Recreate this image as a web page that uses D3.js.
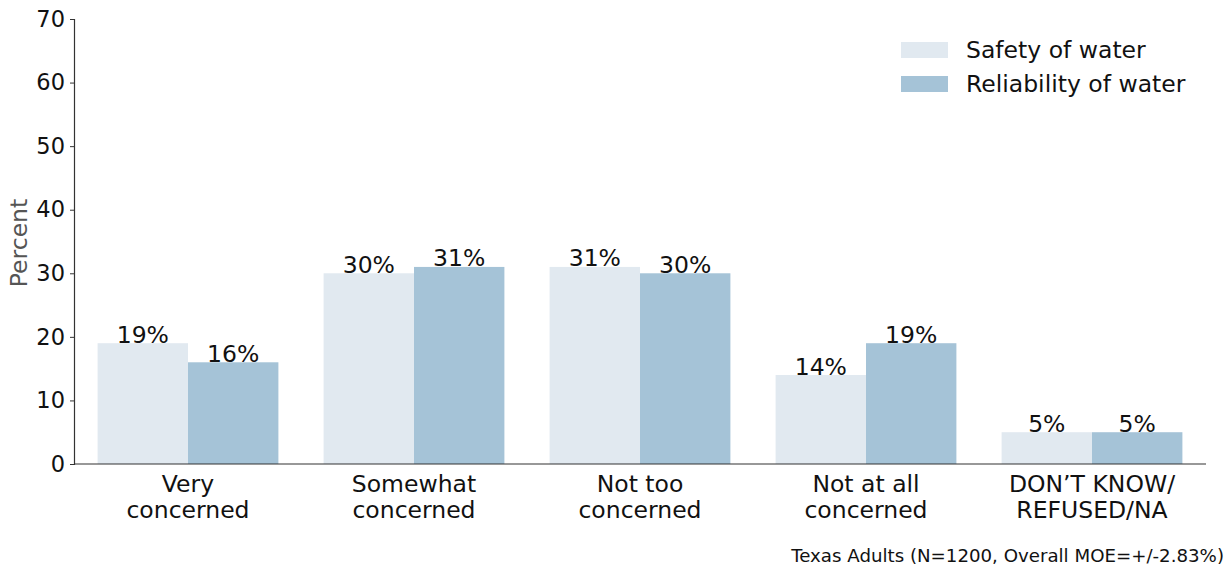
<!DOCTYPE html>
<html lang="en">
<head>
    <meta charset="UTF-8">
    <title>Water concern - Texas Adults</title>
    <script src="https://d3js.org/d3.v7.min.js"></script>
    <style>
        body { margin: 0; background: #fff; }
        text { font-family: "DejaVu Sans", sans-serif; }
    </style>
</head>
<body>
    <svg width="1230" height="567" id="chart"></svg>

    <script>
        // data
        const categories = [["Very", "concerned"], ["Somewhat", "concerned"], ["Not too", "concerned"],
                            ["Not at all", "concerned"], ["DON\u2019T KNOW/", "REFUSED/NA"]];
        const seriesNames = ["Safety of water", "Reliability of water"];
        const safety = [19, 30, 31, 14, 5];
        const reliability = [16, 31, 30, 19, 5];
        const yTicks = [0, 10, 20, 30, 40, 50, 60, 70];
        const colors = ["#e1e9f0", "#a5c3d7"];
        const footnote = "Texas Adults (N=1200, Overall MOE=+/-2.83%)";

        const svg = d3.select("#chart");
        const plotLeft = 75, plotRight = 1205, plotTop = 19, plotBottom = 464;
        const fs = 23.5;

        const x0 = d3.scaleBand()
            .domain(d3.range(categories.length))
            .range([plotLeft, plotRight])
            .paddingInner(0.2)
            .paddingOuter(0.1);

        const x1 = d3.scaleBand()
            .domain(d3.range(seriesNames.length))
            .range([0, x0.bandwidth()])
            .padding(0);

        const y = d3.scaleLinear().domain([0, 70]).range([plotBottom, plotTop]);

        const series = [safety, reliability];

        // bars
        const groups = svg.append("g").selectAll("g")
            .data(categories.map((c, i) => i))
            .join("g")
            .attr("transform", i => `translate(${x0(i)},0)`);

        groups.selectAll("rect")
            .data(i => series.map((s, k) => ({ k, v: s[i] })))
            .join("rect")
            .attr("x", d => x1(d.k))
            .attr("y", d => y(d.v))
            .attr("width", x1.bandwidth())
            .attr("height", d => y(0) - y(d.v))
            .attr("fill", d => colors[d.k]);

        // value labels
        groups.selectAll("text")
            .data(i => series.map((s, k) => ({ k, v: s[i] })))
            .join("text")
            .attr("x", d => x1(d.k) + x1.bandwidth() / 2)
            .attr("y", d => y(d.v) - 0.5)
            .attr("text-anchor", "middle")
            .attr("font-size", fs)
            .attr("fill", "#111")
            .text(d => d.v + "%");

        // y axis
        const yAxis = svg.append("g")
            .attr("transform", `translate(${plotLeft - 1},0)`)
            .call(d3.axisLeft(y).tickValues(yTicks).tickSize(4).tickPadding(5));
        yAxis.select(".domain").attr("stroke", "#333").attr("stroke-width", 1.2);
        yAxis.selectAll(".tick line").attr("stroke", "#333");
        yAxis.selectAll(".tick text")
            .attr("font-size", 22.5)
            .attr("font-family", "DejaVu Sans, sans-serif")
            .attr("fill", "#111");

        // x axis
        const xAxis = svg.append("g")
            .attr("transform", `translate(0,${plotBottom})`)
            .call(d3.axisBottom(x0).tickSize(0).tickFormat(""));
        xAxis.select(".domain").attr("stroke", "#333").attr("stroke-width", 1.2)
            .attr("d", `M${plotLeft - 1},0H${plotRight + 1}`);

        const catLabels = svg.append("g").selectAll("text")
            .data(categories)
            .join("text")
            .attr("text-anchor", "middle")
            .attr("font-size", fs)
            .attr("fill", "#111")
            .attr("transform", (d, i) => `translate(${x0(i) + x0.bandwidth() / 2},0)`);
        catLabels.selectAll("tspan")
            .data(d => d)
            .join("tspan")
            .attr("x", 0)
            .attr("y", (d, j) => 492 + j * 26)
            .text(d => d);

        // y label
        svg.append("text")
            .attr("transform", "translate(27,243) rotate(-90)")
            .attr("text-anchor", "middle")
            .attr("font-size", fs)
            .attr("fill", "#555")
            .text("Percent");

        // legend
        const legend = svg.append("g").selectAll("g")
            .data(seriesNames)
            .join("g")
            .attr("transform", (d, i) => `translate(901,${42 + i * 34})`);
        legend.append("rect")
            .attr("width", 47)
            .attr("height", 16)
            .attr("fill", (d, i) => colors[i]);
        legend.append("text")
            .attr("x", 65)
            .attr("y", 16)
            .attr("font-size", fs)
            .attr("fill", "#111")
            .text(d => d);

        // footnote
        svg.append("text")
            .attr("x", 1224)
            .attr("y", 562)
            .attr("text-anchor", "end")
            .attr("font-size", 18.2)
            .attr("fill", "#111")
            .text(footnote);
    </script>
</body>
</html>
